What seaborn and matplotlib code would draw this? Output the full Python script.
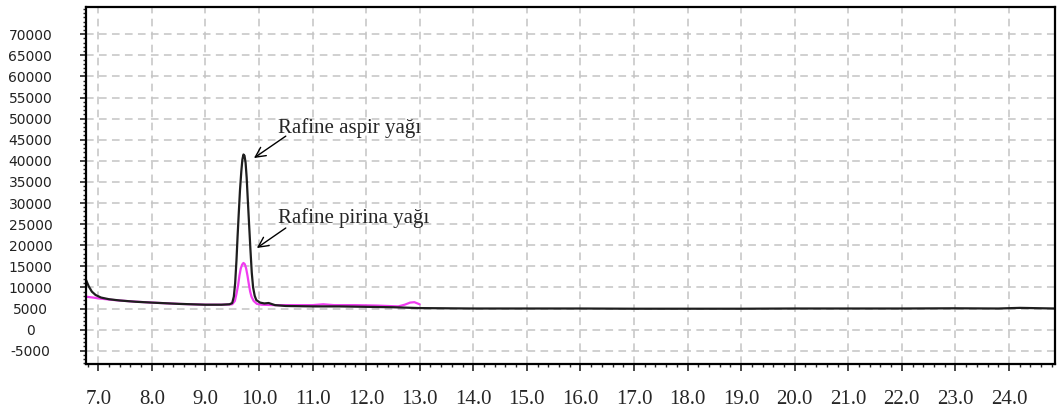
import numpy as np
import pandas as pd
import seaborn as sns
import matplotlib.pyplot as plt
from matplotlib.ticker import MultipleLocator

# retention time (min) and signal for the two oils
aspir_time = [6.77, 6.82, 6.88, 6.95, 7.05, 7.2, 7.4, 7.7, 8.0, 8.5, 9.0, 9.3, 9.45,
              9.50, 9.53, 9.555, 9.58, 9.60, 9.62, 9.645, 9.67, 9.69, 9.71, 9.73, 9.75,
              9.77, 9.79, 9.815, 9.84, 9.865, 9.89, 9.92, 9.95, 10.02, 10.1,
              10.18, 10.3, 10.5, 11.0, 11.5, 12.0, 12.5, 13.0, 13.5, 14.0, 15.0, 16.0,
              17.0, 18.0, 19.0, 20.0, 21.0, 22.0, 23.0, 23.8, 24.2, 24.86]
aspir_signal = [11800, 10300, 9000, 8200, 7600, 7200, 6900, 6600, 6400, 6100, 5900, 5900, 6000,
                6300, 7800, 11000, 16500, 22000, 27000, 33000, 37500, 40300, 41500, 41200, 39500,
                36000, 31000, 25000, 19000, 13500, 10000, 8000, 7000, 6400, 6200,
                6300, 5800, 5600, 5500, 5500, 5400, 5300, 5100, 5050, 5000, 5000, 5000,
                4950, 4950, 4950, 5000, 5000, 5000, 5050, 5000, 5150, 5000]

pirina_time = [6.77, 6.9, 7.0, 7.3, 7.6, 8.0, 8.5, 9.0, 9.3, 9.5, 9.55, 9.58, 9.61, 9.635,
               9.66, 9.685, 9.71, 9.735, 9.76, 9.785, 9.81, 9.835, 9.86, 9.9, 9.96, 10.05,
               10.3, 10.6, 11.0, 11.2, 11.4, 11.8, 12.2, 12.6, 12.72, 12.82, 12.9, 12.96, 13.0]
pirina_signal = [7800, 7600, 7400, 7000, 6700, 6400, 6100, 5900, 5900, 6000, 6800, 8500, 10500, 12800,
                 14500, 15400, 15800, 15500, 14500, 12800, 10800, 9000, 7800, 6800, 6100, 5900,
                 5800, 5800, 5800, 6000, 5800, 5800, 5700, 5500, 5900, 6400, 6500, 6200, 6000]

aspir = pd.DataFrame({'time': aspir_time, 'signal': aspir_signal})
pirina = pd.DataFrame({'time': pirina_time, 'signal': pirina_signal})

sns.set_style('white')

fig = plt.figure(figsize=(10.6, 4.12), dpi=100)
ax = fig.add_axes([0.0811, 0.1165, 0.9142, 0.8665])

sns.lineplot(x='time', y='signal', data=pirina, color='#f03cf0', lw=1.6, ax=ax)
sns.lineplot(x='time', y='signal', data=aspir, color='#1e1e1e', lw=1.6, ax=ax)

ax.set_xlim(6.77, 24.86)
ax.set_ylim(-8150, 76450)

# grid
ax.xaxis.set_major_locator(MultipleLocator(1.0))
ax.xaxis.set_minor_locator(MultipleLocator(0.2))
ax.yaxis.set_major_locator(MultipleLocator(5000))
ax.yaxis.set_minor_locator(MultipleLocator(1000))
ax.grid(True, which='major', color='#c4c4c4', linestyle=(0, (5, 3.5)), lw=1.1)
ax.set_axisbelow(True)

for s in ax.spines.values():
    s.set_color('black')
    s.set_linewidth(1.6)

ax.set_xlabel('')
ax.set_ylabel('')

# tick labels
xticks = np.arange(7.0, 24.5, 1.0)
ax.set_xticks(xticks)
ax.set_xticklabels(['%.1f' % t for t in xticks], fontfamily='Liberation Serif', fontsize=15)
yticks = np.arange(-5000, 70001, 5000)
ax.set_yticks(yticks)
ax.set_yticklabels([str(t) for t in yticks], fontfamily='DejaVu Sans', fontsize=10, color='#222222')
for lab in ax.get_yticklabels():
    lab.set_ha('center')

ax.tick_params(axis='x', which='major', direction='out', length=5, width=1.2, pad=14, bottom=True)
ax.tick_params(axis='x', which='minor', direction='out', length=2.5, width=1, bottom=True)
ax.tick_params(axis='y', which='major', direction='out', length=4, width=1.2, pad=36, left=True)
ax.tick_params(axis='y', which='minor', direction='out', length=2, width=1, left=True)

# labels with arrows
arrow = dict(arrowstyle='->,head_length=0.6,head_width=0.3', color='black', lw=1, mutation_scale=12,
             shrinkA=0, shrinkB=0)
ax.annotate('', xy=(9.906, 40660), xytext=(10.50, 45850), arrowprops=arrow)
ax.annotate('', xy=(9.96, 19340), xytext=(10.50, 24080), arrowprops=arrow)
ax.text(10.35, 47750, 'Rafine aspir yağı', fontfamily='Liberation Serif', fontsize=15,
        ha='left', va='center')
ax.text(10.35, 26370, 'Rafine pirina yağı', fontfamily='Liberation Serif', fontsize=15,
        ha='left', va='center')

fig.savefig('out.png', dpi=100)
